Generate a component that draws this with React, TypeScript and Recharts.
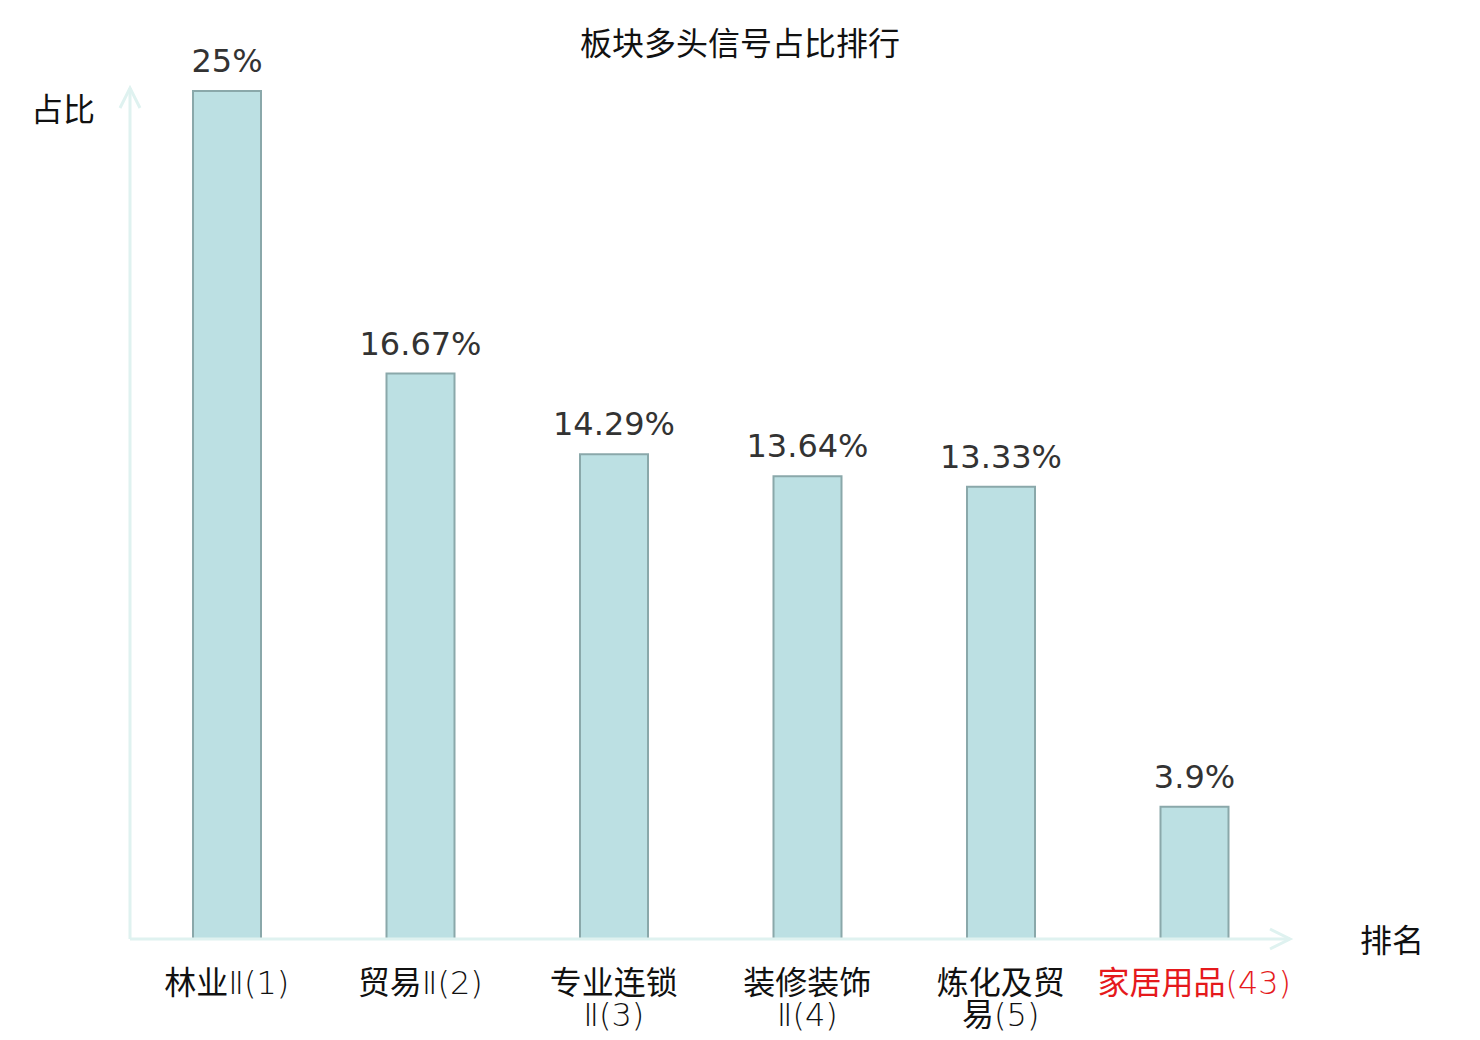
import React from 'react';
import { BarChart, Bar, XAxis, YAxis, LabelList } from 'recharts';

const categories = ['林业Ⅱ(1)', '贸易Ⅱ(2)', '专业连锁Ⅱ(3)', '装修装饰Ⅱ(4)', '炼化及贸易(5)', '家居用品(43)'];
const tickLines = [['林业Ⅱ(1)'], ['贸易Ⅱ(2)'], ['专业连锁', 'Ⅱ(3)'], ['装修装饰', 'Ⅱ(4)'], ['炼化及贸', '易(5)'], ['家居用品(43)']];
const values = [25, 16.67, 14.29, 13.64, 13.33, 3.9];
const highlighted = [false, false, false, false, false, true];
const yDomain = [0, 25];
const title = '板块多头信号占比排行';
const yName = '占比';
const xName = '排名';

const data = categories.map((c, i) => ({ name: c, value: values[i], lines: tickLines[i], hl: highlighted[i] }));

const CJK = '"Noto Sans CJK SC", "Noto Sans", sans-serif';
const LATIN = '"DejaVu Sans", sans-serif';
const AXIS = '#dff2f0';

const splitRuns = (s: string) => {
  const runs: { t: string; latin: boolean }[] = [];
  for (const ch of s) {
    const latin = /[\x20-\x7e\u2161]/.test(ch);
    const last = runs[runs.length - 1];
    if (last && last.latin === latin) last.t += ch;
    else runs.push({ t: ch, latin });
  }
  return runs;
};

const Tick = (props: any) => {
  const { x, y, index } = props;
  const d = data[index];
  return (
    <text x={x} y={y} textAnchor="middle" fontFamily={CJK} fontSize={32} fill={d.hl ? '#e5191c' : '#111'}>
      {d.lines.map((l: string, i: number) => (
        <tspan key={i} x={x} dy={i === 0 ? 55 : 32}>
          {splitRuns(l).map((r, j) =>
            r.latin ? (
              <tspan key={j} fontFamily={LATIN} fontWeight={200}>{r.t}</tspan>
            ) : (
              <tspan key={j}>{r.t}</tspan>
            )
          )}
        </tspan>
      ))}
    </text>
  );
};

const XAxisDecor = (props: any) => {
  const { x, y, width } = props.viewBox;
  const end = x + width - 1;
  return (
    <g>
      <line x1={x} y1={y} x2={end} y2={y} stroke={AXIS} strokeWidth={3} />
      <polyline points={`${end - 20},${y - 10} ${end},${y} ${end - 20},${y + 10}`} fill="none" stroke={AXIS} strokeWidth={3} />
      <text x={x + width + 101} y={y + 13} textAnchor="middle" fontFamily={CJK} fontSize={32} fill="#111">{xName}</text>
    </g>
  );
};

const YAxisDecor = (props: any) => {
  const { x, y, width, height } = props.viewBox;
  const ax = x + width;
  const top = y - 3;
  return (
    <g>
      <line x1={ax} y1={y + height} x2={ax} y2={top} stroke={AXIS} strokeWidth={3} />
      <polyline points={`${ax - 10},${top + 20} ${ax},${top} ${ax + 10},${top + 20}`} fill="none" stroke={AXIS} strokeWidth={3} />
      <text x={ax - 67} y={y + 30} textAnchor="middle" fontFamily={CJK} fontSize={32} fill="#111">{yName}</text>
    </g>
  );
};

export default function App() {
  return (
    <div style={{ position: 'relative', width: 1464, height: 1024 }}>
      <div style={{ position: 'absolute', left: 0, top: 13, width: 1464, textAlign: 'center', fontFamily: CJK, fontSize: 32, color: '#111', lineHeight: '40px' }}>
        {title}
      </div>
      <BarChart width={1464} height={1024} data={data} margin={{ top: 83, right: 181, bottom: 3, left: 121 }}>
        <XAxis dataKey="name" axisLine={false} tickLine={false} tickSize={0} tickMargin={0} height={90} interval={0} tick={<Tick />} label={<XAxisDecor />} />
        <YAxis domain={yDomain} width={1} axisLine={false} tickLine={false} tick={false} label={<YAxisDecor />} />
        <Bar dataKey="value" barSize={68} fill="#bce0e3" stroke="#8aa8aa" strokeWidth={2} isAnimationActive={false}>
          <LabelList dataKey="value" position="top" offset={19} formatter={(v: any) => `${v}%`} fill="#333" fontSize={32} fontFamily={LATIN} />
        </Bar>
      </BarChart>
    </div>
  );
}
